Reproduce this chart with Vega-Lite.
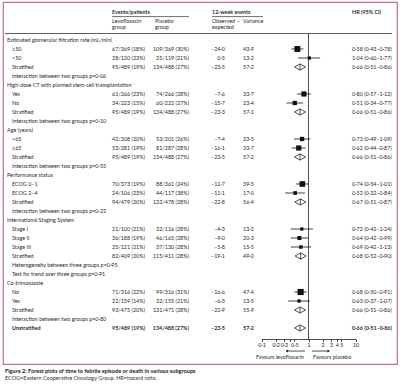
{
  "$schema": "https://vega.github.io/schema/vega-lite/v6.json",
  "width": 394,
  "height": 362,
  "autosize": "none",
  "padding": {"left": 3, "top": 2, "right": 3, "bottom": 21},
  "background": "white",
  "title": {
    "text": "Figure 2: Forest plots of time to febrile episode or death in various subgroups",
    "subtitle": "ECOG=Eastern Cooperative Oncology Group. HR=hazard ratio.",
    "orient": "bottom",
    "anchor": "start",
    "font": "Lato",
    "fontSize": 5.6,
    "fontWeight": "bold",
    "color": "#222222",
    "subtitleFont": "Lato",
    "subtitleFontSize": 5.5,
    "subtitleColor": "#333333",
    "subtitlePadding": 1.5,
    "offset": 4.5,
    "dx": 2
  },
  "datasets": {
    "table": [
      {"row": -2.1, "levo": "Events/patients", "oeH": "12-week events", "hr": "HR (95% CI)", "bold": true},
      {"row": -1.1, "levo": "Levofloxacin", "placH": "Placebo", "oeH": "Observed –", "var": "Variance"},
      {"row": -0.39, "levo": "group", "placH": "group", "oeH": "expected"},
      {"row": 1, "lvl": 0, "label": "Estimated glomerular filtration rate (mL/min)"},
      {"row": 2, "lvl": 1, "label": "≥50", "levo": "67/369 (18%)", "plac": "109/369 (30%)", "oe": "–24·0", "var": "43·9", "hr": "0·58 (0·43–0·78)", "est": 0.58, "lo": 0.43, "hi": 0.78, "w": 43.9, "kind": "sq"},
      {"row": 3, "lvl": 1, "label": "<50", "levo": "28/120 (23%)", "plac": "25/119 (21%)", "oe": "0·5", "var": "13·2", "hr": "1·04 (0·60–1·77)", "est": 1.04, "lo": 0.6, "hi": 1.77, "w": 13.2, "kind": "sq"},
      {"row": 4, "lvl": 1, "label": "Stratified", "levo": "95/489 (19%)", "plac": "134/488 (27%)", "oe": "–23·5", "var": "57·2", "hr": "0·66 (0·51–0·86)", "est": 0.66, "lo": 0.51, "hi": 0.86, "w": 57.2, "kind": "dia"},
      {"row": 5, "lvl": 1, "label": "Interaction between two groups p=0·06"},
      {"row": 6, "lvl": 0, "label": "High-dose CT with planned stem-cell transplantation"},
      {"row": 7, "lvl": 1, "label": "Yes", "levo": "61/266 (23%)", "plac": "74/266 (28%)", "oe": "–7·6", "var": "33·7", "hr": "0·80 (0·57–1·12)", "est": 0.8, "lo": 0.57, "hi": 1.12, "w": 33.7, "kind": "sq"},
      {"row": 8, "lvl": 1, "label": "No", "levo": "34/223 (15%)", "plac": "60/222 (27%)", "oe": "–15·7", "var": "23·4", "hr": "0·51 (0·34–0·77)", "est": 0.51, "lo": 0.34, "hi": 0.77, "w": 23.4, "kind": "sq"},
      {"row": 9, "lvl": 1, "label": "Stratified", "levo": "95/489 (19%)", "plac": "134/488 (27%)", "oe": "–23·3", "var": "57·1", "hr": "0·66 (0·51–0·86)", "est": 0.66, "lo": 0.51, "hi": 0.86, "w": 57.1, "kind": "dia"},
      {"row": 10, "lvl": 1, "label": "Interaction between two groups p=0·10"},
      {"row": 11, "lvl": 0, "label": "Age (years)"},
      {"row": 12, "lvl": 1, "label": "<65", "levo": "42/208 (20%)", "plac": "53/201 (26%)", "oe": "–7·4", "var": "23·5", "hr": "0·73 (0·49–1·09)", "est": 0.73, "lo": 0.49, "hi": 1.09, "w": 23.5, "kind": "sq"},
      {"row": 13, "lvl": 1, "label": "≥65", "levo": "53/281 (19%)", "plac": "81/287 (28%)", "oe": "–16·1", "var": "33·7", "hr": "0·62 (0·44–0·87)", "est": 0.62, "lo": 0.44, "hi": 0.87, "w": 33.7, "kind": "sq"},
      {"row": 14, "lvl": 1, "label": "Stratified", "levo": "95/489 (19%)", "plac": "134/488 (27%)", "oe": "–23·5", "var": "57·2", "hr": "0·66 (0·51–0·86)", "est": 0.66, "lo": 0.51, "hi": 0.86, "w": 57.2, "kind": "dia"},
      {"row": 15, "lvl": 1, "label": "Interaction between two groups p=0·55"},
      {"row": 16, "lvl": 0, "label": "Performance status"},
      {"row": 17, "lvl": 1, "label": "ECOG 0–1", "levo": "70/373 (19%)", "plac": "88/361 (24%)", "oe": "–11·7", "var": "39·5", "hr": "0·74 (0·54–1·01)", "est": 0.74, "lo": 0.54, "hi": 1.01, "w": 39.5, "kind": "sq"},
      {"row": 18, "lvl": 1, "label": "ECOG 2–4", "levo": "24/106 (23%)", "plac": "44/117 (38%)", "oe": "–11·1", "var": "17·0", "hr": "0·52 (0·32–0·84)", "est": 0.52, "lo": 0.32, "hi": 0.84, "w": 17.0, "kind": "sq"},
      {"row": 19, "lvl": 1, "label": "Stratified", "levo": "94/479 (20%)", "plac": "132/478 (28%)", "oe": "–22·8", "var": "56·4", "hr": "0·67 (0·51–0·87)", "est": 0.67, "lo": 0.51, "hi": 0.87, "w": 56.4, "kind": "dia"},
      {"row": 20, "lvl": 1, "label": "Interaction between two groups p=0·22"},
      {"row": 21, "lvl": 0, "label": "International Staging System"},
      {"row": 22, "lvl": 1, "label": "Stage I", "levo": "21/100 (21%)", "plac": "32/116 (28%)", "oe": "–4·3", "var": "13·2", "hr": "0·72 (0·42–1·24)", "est": 0.72, "lo": 0.42, "hi": 1.24, "w": 13.2, "kind": "sq"},
      {"row": 23, "lvl": 1, "label": "Stage II", "levo": "36/188 (19%)", "plac": "46/165 (28%)", "oe": "–9·0", "var": "20·3", "hr": "0·64 (0·42–0·99)", "est": 0.64, "lo": 0.42, "hi": 0.99, "w": 20.3, "kind": "sq"},
      {"row": 24, "lvl": 1, "label": "Stage III", "levo": "25/121 (21%)", "plac": "37/130 (28%)", "oe": "–5·8", "var": "15·5", "hr": "0·69 (0·42–1·13)", "est": 0.69, "lo": 0.42, "hi": 1.13, "w": 15.5, "kind": "sq"},
      {"row": 25, "lvl": 1, "label": "Stratified", "levo": "82/409 (20%)", "plac": "115/411 (28%)", "oe": "–19·1", "var": "49·0", "hr": "0·68 (0·52–0·90)", "est": 0.68, "lo": 0.52, "hi": 0.9, "w": 49.0, "kind": "dia"},
      {"row": 26, "lvl": 1, "label": "Heterogeneity between three groups p=0·95"},
      {"row": 27, "lvl": 1, "label": "Test for trend over three groups p=0·91"},
      {"row": 28, "lvl": 0, "label": "Co-trimoxazole"},
      {"row": 29, "lvl": 1, "label": "No", "levo": "71/316 (22%)", "plac": "99/316 (31%)", "oe": "–16·6", "var": "47·4", "hr": "0·68 (0·50–0·91)", "est": 0.68, "lo": 0.5, "hi": 0.91, "w": 47.4, "kind": "sq"},
      {"row": 30, "lvl": 1, "label": "Yes", "levo": "22/159 (14%)", "plac": "32/155 (21%)", "oe": "–6·3", "var": "13·5", "hr": "0·63 (0·37–1·07)", "est": 0.63, "lo": 0.37, "hi": 1.07, "w": 13.5, "kind": "sq"},
      {"row": 31, "lvl": 1, "label": "Stratified", "levo": "93/475 (20%)", "plac": "131/471 (28%)", "oe": "–22·9", "var": "55·9", "hr": "0·66 (0·51–0·86)", "est": 0.66, "lo": 0.51, "hi": 0.86, "w": 55.9, "kind": "dia"},
      {"row": 32, "lvl": 1, "label": "Interaction between two groups p=0·80"},
      {"row": 33, "lvl": 1, "bold": true, "label": "Unstratified", "levo": "95/489 (19%)", "plac": "134/488 (27%)", "oe": "–23·5", "var": "57·2", "hr": "0·66 (0·51–0·86)", "est": 0.66, "lo": 0.51, "hi": 0.86, "w": 57.2, "kind": "dia"}
    ]
  },
  "data": {"name": "table"},
  "encoding": {
    "y": {"field": "row", "type": "quantitative", "scale": {"domain": [-3.2222, 37], "reverse": true, "nice": false, "zero": false}, "axis": null}
  },
  "layer": [
    {
      "transform": [{"filter": "datum.lvl === 0"}],
      "mark": {"type": "text", "align": "left", "baseline": "middle"},
      "encoding": {
        "x": {"datum": 0, "type": "quantitative", "scale": {"domain": [0, 1], "range": [4, 5]}, "axis": null},
        "text": {"field": "label"}
      }
    },
    {
      "transform": [{"filter": "datum.lvl === 1"}],
      "mark": {"type": "text", "align": "left", "baseline": "middle", "fontWeight": {"expr": "datum.bold ? 'bold' : 'normal'"}},
      "encoding": {
        "x": {"datum": 0, "type": "quantitative", "scale": {"domain": [0, 1], "range": [9, 10]}, "axis": null},
        "text": {"field": "label"}
      }
    },
    {
      "transform": [{"filter": "isValid(datum.levo)"}],
      "mark": {"type": "text", "align": "left", "baseline": "middle", "fontWeight": {"expr": "datum.bold ? 'bold' : 'normal'"}},
      "encoding": {
        "x": {"datum": 0, "type": "quantitative", "scale": {"domain": [0, 1], "range": [109, 110]}, "axis": null},
        "text": {"field": "levo"}
      }
    },
    {
      "transform": [{"filter": "isValid(datum.placH)"}],
      "mark": {"type": "text", "align": "left", "baseline": "middle"},
      "encoding": {
        "x": {"datum": 0, "type": "quantitative", "scale": {"domain": [0, 1], "range": [152, 153]}, "axis": null},
        "text": {"field": "placH"}
      }
    },
    {
      "transform": [{"filter": "isValid(datum.plac)"}],
      "mark": {"type": "text", "align": "right", "baseline": "middle", "fontWeight": {"expr": "datum.bold ? 'bold' : 'normal'"}},
      "encoding": {
        "x": {"datum": 0, "type": "quantitative", "scale": {"domain": [0, 1], "range": [186, 187]}, "axis": null},
        "text": {"field": "plac"}
      }
    },
    {
      "transform": [{"filter": "isValid(datum.oeH)"}],
      "mark": {"type": "text", "align": "left", "baseline": "middle", "fontWeight": {"expr": "datum.bold ? 'bold' : 'normal'"}},
      "encoding": {
        "x": {"datum": 0, "type": "quantitative", "scale": {"domain": [0, 1], "range": [209, 210]}, "axis": null},
        "text": {"field": "oeH"}
      }
    },
    {
      "transform": [{"filter": "isValid(datum.oe)"}],
      "mark": {"type": "text", "align": "right", "baseline": "middle", "fontWeight": {"expr": "datum.bold ? 'bold' : 'normal'"}},
      "encoding": {
        "x": {"datum": 0, "type": "quantitative", "scale": {"domain": [0, 1], "range": [222, 223]}, "axis": null},
        "text": {"field": "oe"}
      }
    },
    {
      "transform": [{"filter": "isValid(datum.var)"}],
      "mark": {"type": "text", "align": "left", "baseline": "middle", "fontWeight": {"expr": "datum.bold ? 'bold' : 'normal'"}},
      "encoding": {
        "x": {"datum": 0, "type": "quantitative", "scale": {"domain": [0, 1], "range": [240, 241]}, "axis": null},
        "text": {"field": "var"}
      }
    },
    {
      "transform": [{"filter": "isValid(datum.hr)"}],
      "mark": {"type": "text", "align": "left", "baseline": "middle", "fontWeight": {"expr": "datum.bold ? 'bold' : 'normal'"}},
      "encoding": {
        "x": {"datum": 0, "type": "quantitative", "scale": {"domain": [0, 1], "range": [349, 350]}, "axis": null},
        "text": {"field": "hr"}
      }
    },
    {
      "data": {"values": [{"row": -1.6}]},
      "mark": {"type": "rule", "color": "#333333", "strokeWidth": 0.7},
      "encoding": {
        "x": {"datum": 0, "type": "quantitative", "scale": {"domain": [0, 1], "range": [109, 186]}, "axis": null},
        "x2": {"datum": 1}
      }
    },
    {
      "data": {"values": [{"row": -1.6}]},
      "mark": {"type": "rule", "color": "#333333", "strokeWidth": 0.7},
      "encoding": {
        "x": {"datum": 0, "type": "quantitative", "scale": {"domain": [0, 1], "range": [209, 260]}, "axis": null},
        "x2": {"datum": 1}
      }
    },
    {
      "data": {"values": [{"row": 0.28}]},
      "mark": {"type": "rule", "color": "#333333", "strokeWidth": 0.8},
      "encoding": {
        "x": {"datum": 0, "type": "quantitative", "scale": {"domain": [0, 1], "range": [2, 389]}, "axis": null},
        "x2": {"datum": 1}
      }
    },
    {
      "transform": [{"filter": "datum.kind === 'sq'"}],
      "mark": {"type": "point", "shape": "square", "filled": true, "color": "#111111", "opacity": 1},
      "encoding": {
        "x": {
          "field": "est", "type": "quantitative",
          "scale": {"type": "log", "domain": [0.1, 10], "range": [258.5, 352.5], "nice": false},
          "axis": {
            "orient": "bottom",
            "values": [0.1, 0.2, 0.3, 0.4, 0.5, 1, 2, 3, 4, 5, 10],
            "labelExpr": "datum.value == 0.4 ? '' : replace(toString(datum.value), '.', '·')",
            "offset": -25, "title": null, "grid": false,
            "domainColor": "#222222", "domainWidth": 0.8,
            "tickColor": "#222222", "tickWidth": 0.8, "tickSize": 2.5,
            "labelColor": "#222222", "labelFont": "Lato", "labelFontSize": 5.3,
            "labelPadding": 1, "labelFlush": false, "labelOverlap": false
          }
        },
        "size": {"field": "w", "type": "quantitative", "scale": {"domain": [0, 50], "range": [0, 40]}, "legend": null}
      }
    },
    {
      "layer": [
        {
          "data": {"values": [{"ref": 1, "top": 0.28, "bottom": 34.28}]},
          "mark": {"type": "rule", "color": "#222222", "strokeWidth": 0.8},
          "encoding": {
            "x": {"field": "ref", "type": "quantitative", "scale": {"type": "log", "domain": [0.1, 10], "range": [258.5, 352.5], "nice": false}, "axis": null},
            "y": {"field": "top", "type": "quantitative"},
            "y2": {"field": "bottom"}
          }
        },
        {
          "transform": [{"filter": "datum.kind === 'sq'"}],
          "mark": {"type": "rule", "color": "#111111", "strokeWidth": 0.8},
          "encoding": {
            "x": {"field": "lo", "type": "quantitative", "scale": {"type": "log", "domain": [0.1, 10], "range": [258.5, 352.5], "nice": false}, "axis": null},
            "x2": {"field": "hi"}
          }
        },
        {
          "transform": [{"filter": "datum.kind === 'dia'"}],
          "mark": {"type": "point", "shape": "M-1,0L0,-0.55L1,0L0,0.55Z M0,-0.55L0,0.55", "filled": false, "fill": "white", "fillOpacity": 1, "stroke": "#222222", "strokeWidth": 0.8, "size": 125, "opacity": 1},
          "encoding": {
            "x": {"field": "est", "type": "quantitative", "scale": {"type": "log", "domain": [0.1, 10], "range": [258.5, 352.5], "nice": false}, "axis": null}
          }
        },
        {
          "data": {"values": [{"from": 0.84, "to": 0.345, "r": 35.56}, {"from": 1.19, "to": 2.7, "r": 35.56}]},
          "mark": {"type": "rule", "color": "#222222", "strokeWidth": 0.8},
          "encoding": {
            "x": {"field": "from", "type": "quantitative", "scale": {"type": "log", "domain": [0.1, 10], "range": [258.5, 352.5], "nice": false}, "axis": null},
            "x2": {"field": "to"},
            "y": {"field": "r", "type": "quantitative"}
          }
        },
        {
          "data": {"values": [{"to": 0.345, "r": 35.56, "dir": "left"}, {"to": 2.7, "r": 35.56, "dir": "right"}]},
          "mark": {"type": "point", "filled": true, "color": "#222222", "size": 9, "opacity": 1},
          "encoding": {
            "x": {"field": "to", "type": "quantitative", "scale": {"type": "log", "domain": [0.1, 10], "range": [258.5, 352.5], "nice": false}, "axis": null},
            "y": {"field": "r", "type": "quantitative"},
            "shape": {"field": "dir", "type": "nominal", "scale": {"domain": ["left", "right"], "range": ["triangle-left", "triangle-right"]}, "legend": null}
          }
        },
        {
          "data": {"values": [{"at": 0.8, "r": 36.25, "t": "Favours levofloxacin", "a": "right"}, {"at": 1.25, "r": 36.25, "t": "Favours placebo", "a": "left"}]},
          "mark": {"type": "text", "baseline": "middle", "align": {"expr": "datum.a"}},
          "encoding": {
            "x": {"field": "at", "type": "quantitative", "scale": {"type": "log", "domain": [0.1, 10], "range": [258.5, 352.5], "nice": false}, "axis": null},
            "y": {"field": "r", "type": "quantitative"},
            "text": {"field": "t"}
          }
        }
      ]
    }
  ],
  "resolve": {"scale": {"x": "independent"}},
  "config": {
    "view": {"stroke": "#c46a8c", "strokeWidth": 1.2},
    "text": {"font": "Lato", "fontSize": 5.4, "color": "#2a2a2a"}
  }
}
